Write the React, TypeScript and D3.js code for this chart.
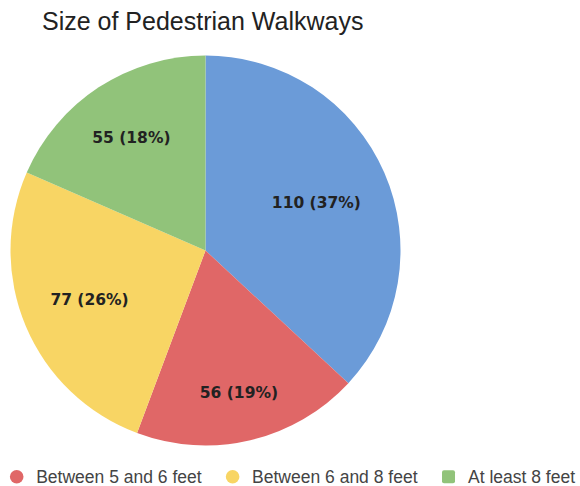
import React from "react";
import * as d3 from "d3";

const categories = ["Less than 5 feet", "Between 5 and 6 feet", "Between 6 and 8 feet", "At least 8 feet"];
const values = [110, 56, 77, 55];
const colors = ["#6b9bd8", "#e06767", "#f8d564", "#91c37a"];
const legendItems = [1, 2, 3];
const title = "Size of Pedestrian Walkways";

const W = 580;
const H = 486;

function measure(text: string, font: string): number {
  const c = document.createElement("canvas").getContext("2d");
  if (!c) return text.length * 8;
  c.font = font;
  return c.measureText(text).width;
}

export default function App() {
  const cx = 205.5;
  const cy = 250.5;
  const r = 195;
  const labelR = r * 0.845;
  const labelFontSize = 15.5;
  const labelFont = `bold ${labelFontSize}px 'DejaVu Sans'`;
  const boxH = 13;

  const total = d3.sum(values);
  const pie = d3.pie<number>().sort(null).value((d) => d);
  const arcs = pie(values);
  const arcGen = d3.arc<d3.PieArcDatum<number>>().innerRadius(0).outerRadius(r);

  const legendFont = "17.5px 'Liberation Sans'";
  const legendY = 476.8;
  let lx = 16.7;
  const legendPos = legendItems.map((i) => {
    const mx = lx;
    const tx = mx + 19.5;
    const w = measure(categories[i], legendFont);
    lx = tx + w + 31;
    return { i, mx, tx };
  });

  return (
    <svg
      width={W}
      height={H}
      style={{ position: "fixed", left: 0, top: 0, background: "#fff" }}
    >
      <rect width={W} height={H} fill="#fff" />
      <text
        x={42}
        y={30}
        fontFamily="'Liberation Sans', Arial, sans-serif"
        fontSize={25}
        fill="#222"
      >
        {title}
      </text>
      <g transform={`translate(${cx},${cy})`}>
        {arcs.map((a, i) => (
          <path key={i} d={arcGen(a) || ""} fill={colors[i]} />
        ))}
        {arcs.map((a, i) => {
          const mid = (a.startAngle + a.endAngle) / 2;
          const ux = Math.sin(mid);
          const uy = -Math.cos(mid);
          const pct = Math.round((values[i] / total) * 100);
          const label = `${values[i]} (${pct}%)`;
          const w = measure(label, labelFont);
          const ox = Math.sign(ux) * (w / 2);
          const oy = Math.sign(uy) * (boxH / 2);
          const b = ux * ox + uy * oy;
          const c = ox * ox + oy * oy - labelR * labelR;
          const d = -b + Math.sqrt(b * b - c);
          const x = d * ux;
          const y = d * uy;
          return (
            <text
              key={`l${i}`}
              x={x}
              y={y + labelFontSize * 0.365}
              textAnchor="middle"
              fontFamily="'DejaVu Sans', Verdana, sans-serif"
              fontWeight="bold"
              fontSize={labelFontSize}
              fill="#222"
            >
              {label}
            </text>
          );
        })}
      </g>
      <g>
        {legendPos.map(({ i, mx, tx }) => (
          <g key={i}>
            {i === 3 ? (
              <rect x={mx - 6.5} y={legendY - 6.5} width={13} height={13} rx={2} fill={colors[i]} />
            ) : (
              <circle cx={mx} cy={legendY} r={6.8} fill={colors[i]} />
            )}
            <text
              x={tx}
              y={legendY + 6.2}
              fontFamily="'Liberation Sans', Arial, sans-serif"
              fontSize={17.5}
              fill="#444"
            >
              {categories[i]}
            </text>
          </g>
        ))}
      </g>
    </svg>
  );
}
